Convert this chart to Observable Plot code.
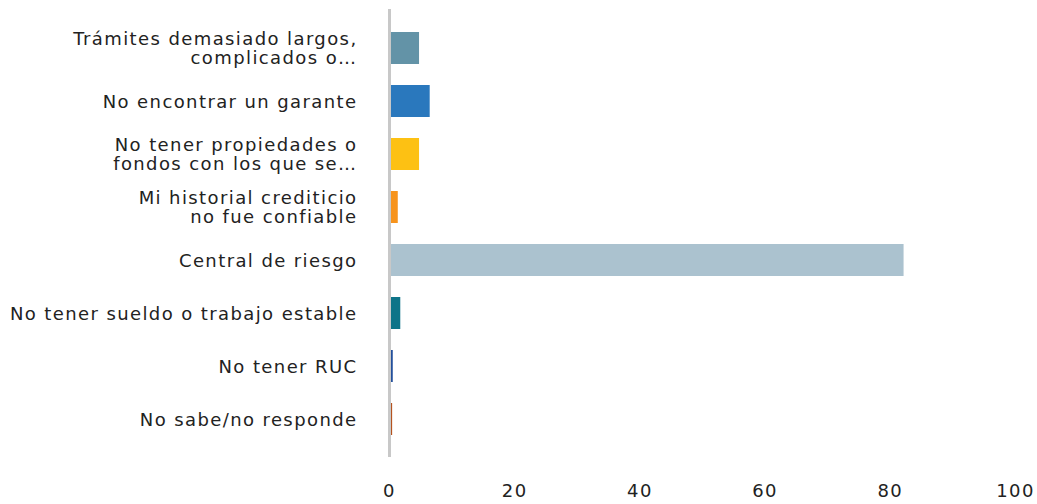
<!DOCTYPE html>
<html>
<head>
<meta charset="utf-8">
<script src="https://cdn.jsdelivr.net/npm/d3@7"></script>
<script src="https://cdn.jsdelivr.net/npm/@observablehq/plot@0.6"></script>
<style>
  html, body { margin: 0; padding: 0; background: #fff; }
  #chart svg { display: block; }
  #chart svg text { letter-spacing: 1.4px; }
</style>
</head>
<body>
<div id="chart"></div>
<script>
const categories = [
  "Trámites demasiado largos,\ncomplicados o…",
  "No encontrar un garante",
  "No tener propiedades o\nfondos con los que se…",
  "Mi historial crediticio\nno fue confiable",
  "Central de riesgo",
  "No tener sueldo o trabajo estable",
  "No tener RUC",
  "No sabe/no responde"
];
const values = [4.8, 6.5, 4.8, 1.4, 82.2, 1.8, 0.6, 0.5];
const colors = ["#6393a7", "#2a78bd", "#fdc113", "#f7941d", "#abc2cf", "#0e7488", "#23509c", "#b5531f"];
const xTicks = [0, 20, 40, 60, 80, 100];

const data = categories.map((c, i) => ({category: c, value: values[i], color: colors[i]}));

const chart = Plot.plot({
  width: 1037,
  height: 504,
  marginLeft: 389,
  marginRight: 22,
  marginTop: 9,
  marginBottom: 47,
  style: {fontFamily: "'DejaVu Sans', sans-serif", fontSize: "18px", color: "#222", background: "#fff"},
  x: {domain: [0, 100], ticks: xTicks, label: null},
  y: {domain: categories, padding: 0.4, label: null},
  marks: [
    Plot.barX(data, {y: "category", x1: 0, x2: "value", fill: "color"}),
    Plot.ruleX([0], {stroke: "#c8c8c8", strokeWidth: 3}),
    Plot.axisX({ticks: xTicks, tickSize: 0, tickPadding: 27, fontSize: 18, fill: "#222", label: null}),
    Plot.axisY({tickSize: 0, tickPadding: 32, fontSize: 18, fill: "#222", lineHeight: 1.08, label: null})
  ]
});
document.getElementById("chart").appendChild(chart);
</script>
</body>
</html>
